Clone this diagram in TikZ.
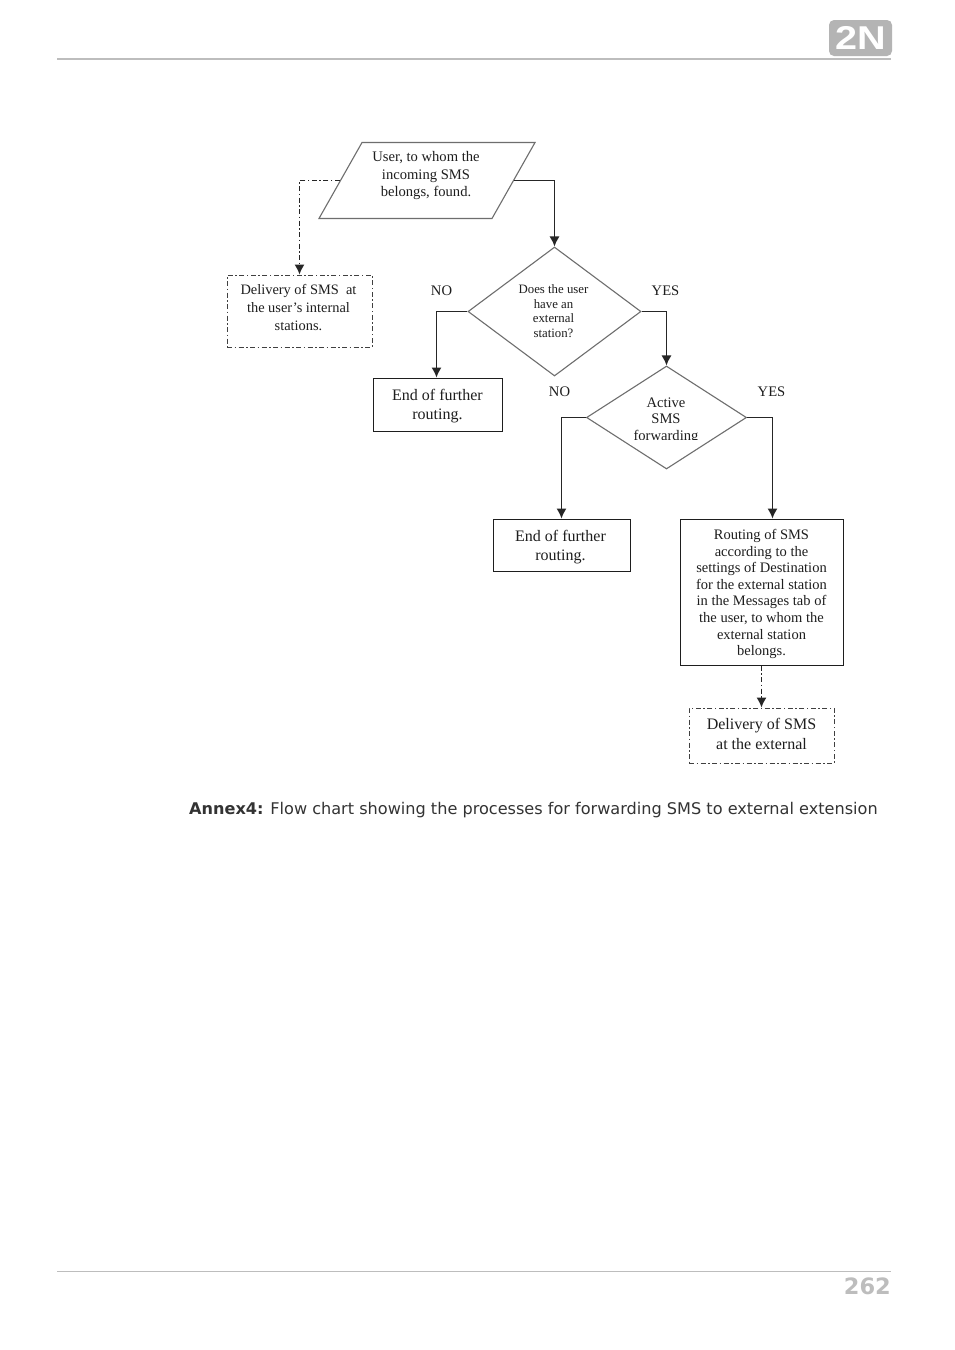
\documentclass[tikz,border=0pt]{standalone}
\usepackage{fontspec}
\setmainfont{Liberation Serif}
\newfontfamily\capfont{DejaVu Sans}
\newfontfamily\logofont{Liberation Sans}
\usetikzlibrary{shapes.geometric,arrows.meta}
\definecolor{pagegrey}{HTML}{BDBDBD}
\definecolor{logogrey}{HTML}{B4B4B4}
\definecolor{shapegrey}{HTML}{6E6E6E}
\definecolor{inkc}{HTML}{1E1E1E}
\tikzset{
  x=1pt,y=-1pt,
  lbl/.style={font=\fontsize{14.6}{16.6}\selectfont,text=inkc,align=center,inner sep=0pt},
  txt/.style={text=inkc,align=center,inner sep=0pt},
  solidbox/.style={draw=inkc,line width=1pt,inner sep=0pt,rectangle,text=inkc,align=center},
  dashbox/.style={solidbox,dash pattern=on 5pt off 2.5pt on 1.5pt off 2.5pt,draw=black!75},
  choice/.style={diamond,draw=shapegrey,line width=1.1pt,inner sep=0pt},
  link/.style={draw=black!85,line width=1.2pt,-{Latex[length=10pt,width=10pt]}},
  dashlink/.style={link,dash pattern=on 5pt off 2.5pt on 1.5pt off 2.5pt},
  bigtxt/.style={txt,font=\fontsize{16}{19.5}\selectfont},
}
\begin{document}
\begin{tikzpicture}
\useasboundingbox (0,0) rectangle (954,1350);
\fill[white] (0,0) rectangle (954,1350);

% page furniture
\coordinate (hl) at (57,59); \coordinate (hr) at (891,59);
\draw[pagegrey,line width=1.3pt] (hl) -- (hr);
\coordinate (fl) at (57,1271.5); \coordinate (fr) at (891,1271.5);
\draw[pagegrey,line width=1.1pt] (fl) -- (fr);
\node[fill=logogrey,rounded corners=5pt,minimum width=63pt,minimum height=36pt,inner sep=0pt] (logo) at (860.5,38) {};
\node[text=white,inner sep=0pt,font=\logofont\bfseries\fontsize{33}{33}\selectfont,xscale=1.2] (logotext) at (860.5,37.5) {2N};
\node[anchor=east,inner sep=0pt,text=pagegrey,font=\capfont\bfseries\fontsize{22.5}{24}\selectfont] (page) at (891,1286) {262};
\node[anchor=west,inner sep=0pt,text=black!80,font=\capfont\fontsize{16.11}{18}\selectfont] (caption) at (189,810) {\textbf{Annex4:} Flow chart showing the processes for forwarding SMS to external extension};

% shapes
\coordinate (foundc) at (427,180.5);
\begin{scope}[shift={(foundc)}]
\node[rectangle,xslant=0.566,transform shape,draw=shapegrey,line width=1.1pt,
  minimum width=173pt,minimum height=76pt,inner sep=0pt] (found) at (0,0) {};
\end{scope}
\node[txt,font=\fontsize{14.6}{17.5}\selectfont] (foundtext) at (426,176) {User, to whom the\\incoming SMS\\belongs, found.};
\node[dashbox,minimum width=145pt,minimum height=72pt] (internal) at (299.5,311) {};
\node[txt,font=\fontsize{14.4}{17.6}\selectfont] (internaltext) at (298.5,307.5) {Delivery of SMS\ \ at\\the user's internal\\stations.};
\node[choice,minimum width=173pt,minimum height=129pt] (ext) at (554.5,311.5) {\phantom{X}};
\node[txt,font=\fontsize{12.8}{14.6}\selectfont] (exttext) at (553.5,311) {Does the user\\have an\\external\\station?};
\node[solidbox,minimum width=129pt,minimum height=53pt] (end1) at (437.5,404.5) {};
\node[bigtxt] (end1text) at (437.5,406) {End of further\\routing.};
\node[choice,minimum width=160pt,minimum height=103pt] (active) at (666.5,417.5) {\phantom{X}};
\node[txt,font=\fontsize{14.6}{16.6}\selectfont] (activetext) at (666,420.5) {Active\\SMS\\forwarding};
\node[solidbox,minimum width=137pt,minimum height=52pt] (end2) at (561.5,545) {};
\node[bigtxt] (end2text) at (560.5,547) {End of further\\routing.};
\node[solidbox,minimum width=163pt,minimum height=146pt] (routing) at (761.5,592) {};
\node[txt,font=\fontsize{14.5}{16.6}\selectfont] (routingtext) at (761.5,594)
  {Routing of SMS\\according to the\\settings of Destination\\for the external station\\in the Messages tab of\\the user, to whom the\\external station\\belongs.};
\node[dashbox,minimum width=145pt,minimum height=55pt] (delivery) at (761.5,735.5) {};
\node[bigtxt] (deliverytext) at (761.5,734) {Delivery of SMS\\at the external};
% the source image cuts the descenders of the diamond's last line off
\coordinate (cutA) at (630,439.5); \coordinate (cutB) at (700,445);
\fill[white] (cutA) rectangle (cutB);

% labels
\node[lbl] (no1) at (441.5,291) {NO};
\node[lbl] (yes1) at (665.5,291) {YES};
\node[lbl] (no2) at (559.5,392) {NO};
\node[lbl] (yes2) at (771.5,392) {YES};

% connectors
\draw[link] (found.east) -| (ext.north);
\draw[dashlink] (found.west) -| (internal.north);
\draw[link] (ext.west) -| ([xshift=-1pt]end1.north);
\draw[link] (ext.east) -| (active.north);
\draw[link] (active.west) -| (end2.north);
\draw[link] (active.east) -| ([xshift=11pt]routing.north);
\draw[dashlink] (routing.south) -- (delivery.north);
\end{tikzpicture}
\end{document}
